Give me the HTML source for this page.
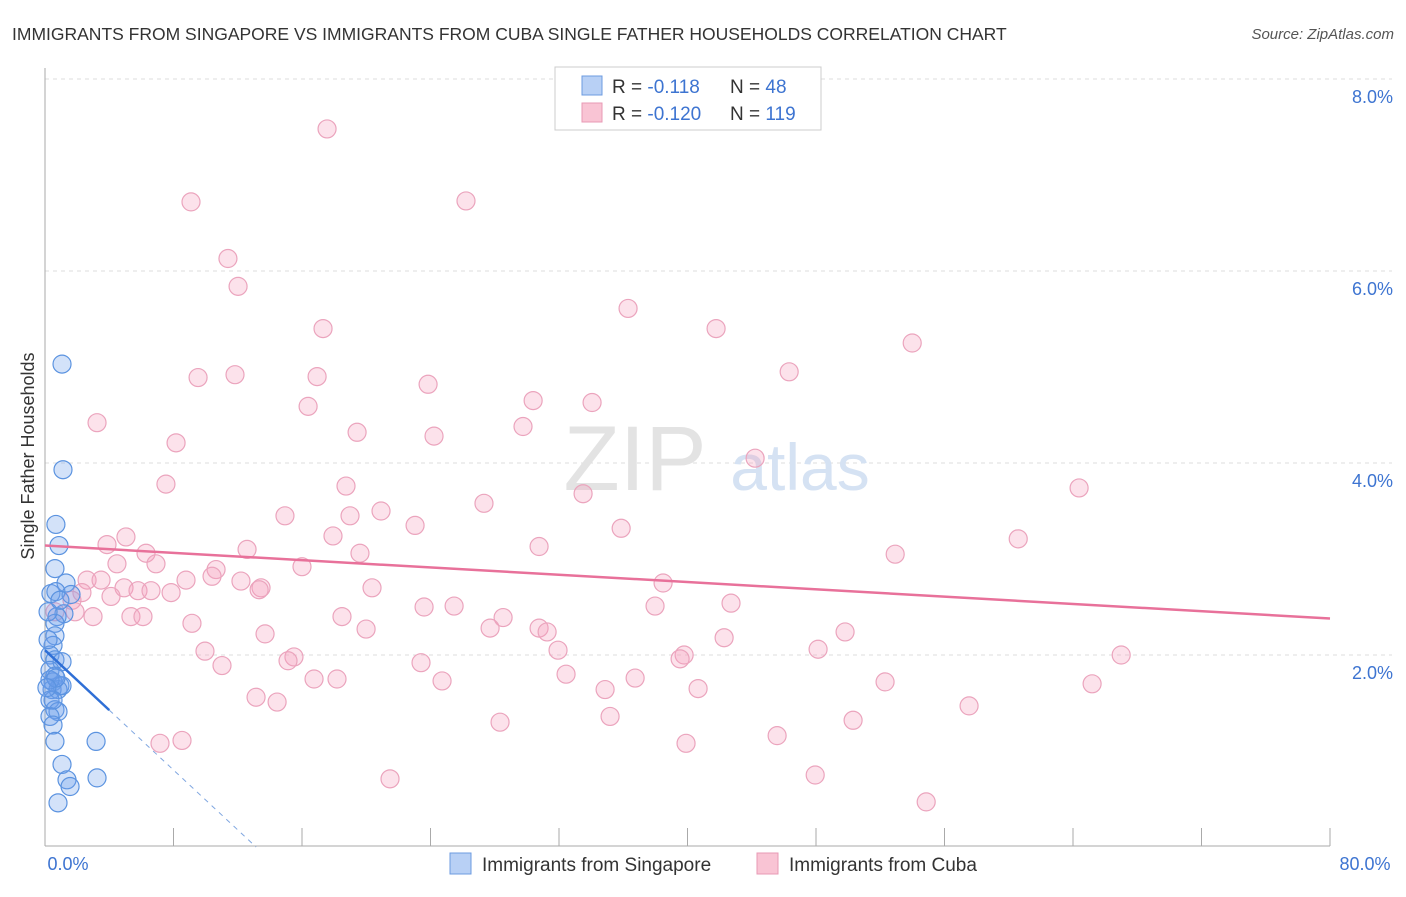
<!DOCTYPE html>
<html><head><meta charset="utf-8"><style>
body{margin:0;background:#fff;font-family:"Liberation Sans",sans-serif;}
svg text{font-family:"Liberation Sans",sans-serif;}
</style></head><body>
<svg id="chart" width="1406" height="892">
<text x="12" y="40" font-size="17.5" fill="#333">IMMIGRANTS FROM SINGAPORE VS IMMIGRANTS FROM CUBA SINGLE FATHER HOUSEHOLDS CORRELATION CHART</text>
<text x="1394" y="39" font-size="15" fill="#555" font-style="italic" text-anchor="end">Source: ZipAtlas.com</text>
<g id="grid"></g>
<text x="635" y="490" font-size="92" fill="#e3e3e3" font-family="Liberation Serif" text-anchor="middle">ZIP</text>
<text x="800" y="490" font-size="66" fill="#d5e2f3" text-anchor="middle">atlas</text>
<line x1="45" y1="68" x2="45" y2="846" stroke="#aaa"/>
<line x1="45" y1="846" x2="1330" y2="846" stroke="#aaa"/>
<g id="ticks"></g>
<g id="ylabels"></g>
<text x="68" y="870" font-size="18" fill="#3d74d1" text-anchor="middle">0.0%</text>
<text x="1365" y="870" font-size="18" fill="#3d74d1" text-anchor="middle">80.0%</text>
<text transform="translate(34,456) rotate(-90)" font-size="18" fill="#333" text-anchor="middle">Single Father Households</text>
<g id="pink"></g>
<g id="blue"></g>
<g id="trends"></g>
<g>
<rect x="555" y="67" width="266" height="63" fill="#fff" stroke="#ccc"/>
<rect x="582" y="76" width="20" height="19" fill="#b8d0f5" stroke="#6c9be0"/>
<rect x="582" y="103" width="20" height="19" fill="#f9c4d4" stroke="#e89ab5"/>
<text x="612" y="93" font-size="19" fill="#333">R = <tspan fill="#3d74d1">-0.118</tspan></text>
<text x="730" y="93" font-size="19" fill="#333">N = <tspan fill="#3d74d1">48</tspan></text>
<text x="612" y="120" font-size="19" fill="#333">R = <tspan fill="#3d74d1">-0.120</tspan></text>
<text x="730" y="120" font-size="19" fill="#333">N = <tspan fill="#3d74d1">119</tspan></text>
</g>
<g>
<rect x="450" y="853" width="21" height="21" fill="#b8d0f5" stroke="#6c9be0"/>
<text x="482" y="871" font-size="19" fill="#333">Immigrants from Singapore</text>
</g>
<g>
<rect x="757" y="853" width="21" height="21" fill="#f9c4d4" stroke="#e89ab5"/>
<text x="789" y="871" font-size="19" fill="#333">Immigrants from Cuba</text>
</g>
</svg>
<script>
const yTicks=[2,4,6,8];
const yTickLabels=["2.0%","4.0%","6.0%","8.0%"];
const xTicks=[0,8,16,24,32,40,48,56,64,72,80];
const cubaX=[17.56,9.09,26.21,11.39,12.02,36.30,17.31,41.78,53.99,9.53,11.83,16.94,23.85,46.33,3.24,30.39,34.06,16.38,8.16,19.43,24.22,29.76,44.21,7.53,18.74,33.50,64.38,27.33,14.94,20.92,18.99,23.04,35.87,17.93,5.04,3.86,12.58,6.29,19.61,30.76,60.59,52.93,4.48,6.91,16.00,10.65,10.40,2.62,3.49,8.78,12.20,38.48,20.36,2.30,4.92,13.45,4.11,5.79,6.60,7.85,13.33,1.68,0.62,1.87,2.99,5.35,6.10,18.49,23.60,25.47,37.98,42.71,28.52,9.15,27.71,30.76,19.99,31.26,13.70,42.28,49.81,31.94,39.79,39.54,48.13,67.00,9.96,15.50,15.13,11.02,23.41,32.44,16.75,18.18,24.72,36.74,52.30,13.14,34.87,40.66,65.19,14.45,57.53,35.18,28.33,50.31,45.58,8.53,7.16,39.91,47.95,21.48,54.86];
const cubaY=[7.48,6.72,6.73,6.13,5.84,5.61,5.40,5.40,5.25,4.89,4.92,4.90,4.82,4.95,4.42,4.65,4.63,4.59,4.21,4.32,4.28,4.38,4.05,3.78,3.76,3.68,3.74,3.58,3.45,3.50,3.45,3.35,3.32,3.24,3.23,3.15,3.10,3.06,3.06,3.13,3.21,3.05,2.95,2.95,2.92,2.89,2.82,2.78,2.78,2.78,2.77,2.75,2.70,2.65,2.70,2.70,2.61,2.67,2.67,2.65,2.68,2.57,2.45,2.45,2.40,2.40,2.40,2.40,2.50,2.51,2.51,2.54,2.39,2.33,2.28,2.28,2.27,2.24,2.22,2.18,2.24,2.05,2.00,1.96,2.06,2.00,2.04,1.98,1.94,1.89,1.92,1.80,1.75,1.75,1.73,1.76,1.72,1.56,1.64,1.65,1.70,1.51,1.47,1.36,1.30,1.32,1.16,1.11,1.08,1.08,0.75,0.71,0.47];
const sgX=[1.06,1.12,0.68,0.87,0.62,1.31,0.37,0.68,1.62,1.18,0.75,0.62,0.62,0.50,0.31,0.62,1.06,0.31,0.62,0.50,0.93,0.44,0.81,1.06,0.31,0.62,0.81,0.31,0.50,0.62,3.18,1.06,1.37,3.24,1.56,0.81,0.31,0.68,0.19,0.19,0.93,0.50,0.12];
const sgY=[5.03,3.93,3.36,3.14,2.90,2.75,2.64,2.66,2.63,2.43,2.40,2.33,2.20,2.10,2.00,1.95,1.93,1.84,1.78,1.72,1.68,1.64,1.64,1.68,1.53,1.43,1.41,1.36,1.27,1.10,1.10,0.86,0.70,0.72,0.63,0.46,1.74,1.76,2.16,2.45,2.57,1.53,1.66];
const cubaTrend=[3.14,-0.0095];
const sgTrend=[2.05,-0.156];
const X=v=>45+v*1285/80, Y=v=>847-v*96;
const NS="http://www.w3.org/2000/svg";
function mk(tag,parent,attrs){const e=document.createElementNS(NS,tag);for(const k in attrs)e.setAttribute(k,attrs[k]);document.getElementById(parent).appendChild(e);return e;}
yTicks.forEach((t,i)=>{
 const l=mk('line','grid',{x1:45,x2:1392,y1:Y(t),y2:Y(t),stroke:'#ddd','stroke-dasharray':'4,4'});
 
 
 const tx=mk('text','ylabels',{x:1393,y:Y(t)+24,'font-size':18,fill:'#3d74d1','text-anchor':'end'});
 tx.textContent=yTickLabels[i];
 
 
});
xTicks.forEach(t=>{
 const l=mk('line','ticks',{x1:X(t),x2:X(t),y1:828,y2:846,stroke:'#aaa'});
 
 
});
cubaX.forEach((v,i)=>{
 const c=mk('circle','pink',{cx:X(v),cy:Y(cubaY[i]),r:9,fill:'rgba(244,160,190,0.3)',stroke:'#eba4bd','stroke-width':1.2});
 
 
});
sgX.forEach((v,i)=>{
 const c=mk('circle','blue',{cx:X(v),cy:Y(sgY[i]),r:9,fill:'rgba(110,160,235,0.3)',stroke:'#5b93e0','stroke-width':1.2});
 
 
});
const pl=mk('line','trends',{x1:X(0),y1:Y(cubaTrend[0]),x2:X(80),y2:Y(cubaTrend[0]+cubaTrend[1]*80),stroke:'#e8719a','stroke-width':2.5});


const bl=mk('line','trends',{x1:X(0),y1:Y(sgTrend[0]),x2:X(4),y2:Y(sgTrend[0]+sgTrend[1]*4),stroke:'#2f6fd6','stroke-width':2.5});


const xe=-sgTrend[0]/sgTrend[1];
const bd=mk('line','trends',{x1:X(4),y1:Y(sgTrend[0]+sgTrend[1]*4),x2:X(xe),y2:Y(0),stroke:'#7fa6e0','stroke-width':1,'stroke-dasharray':'5,5'});


</script>
</body></html>
